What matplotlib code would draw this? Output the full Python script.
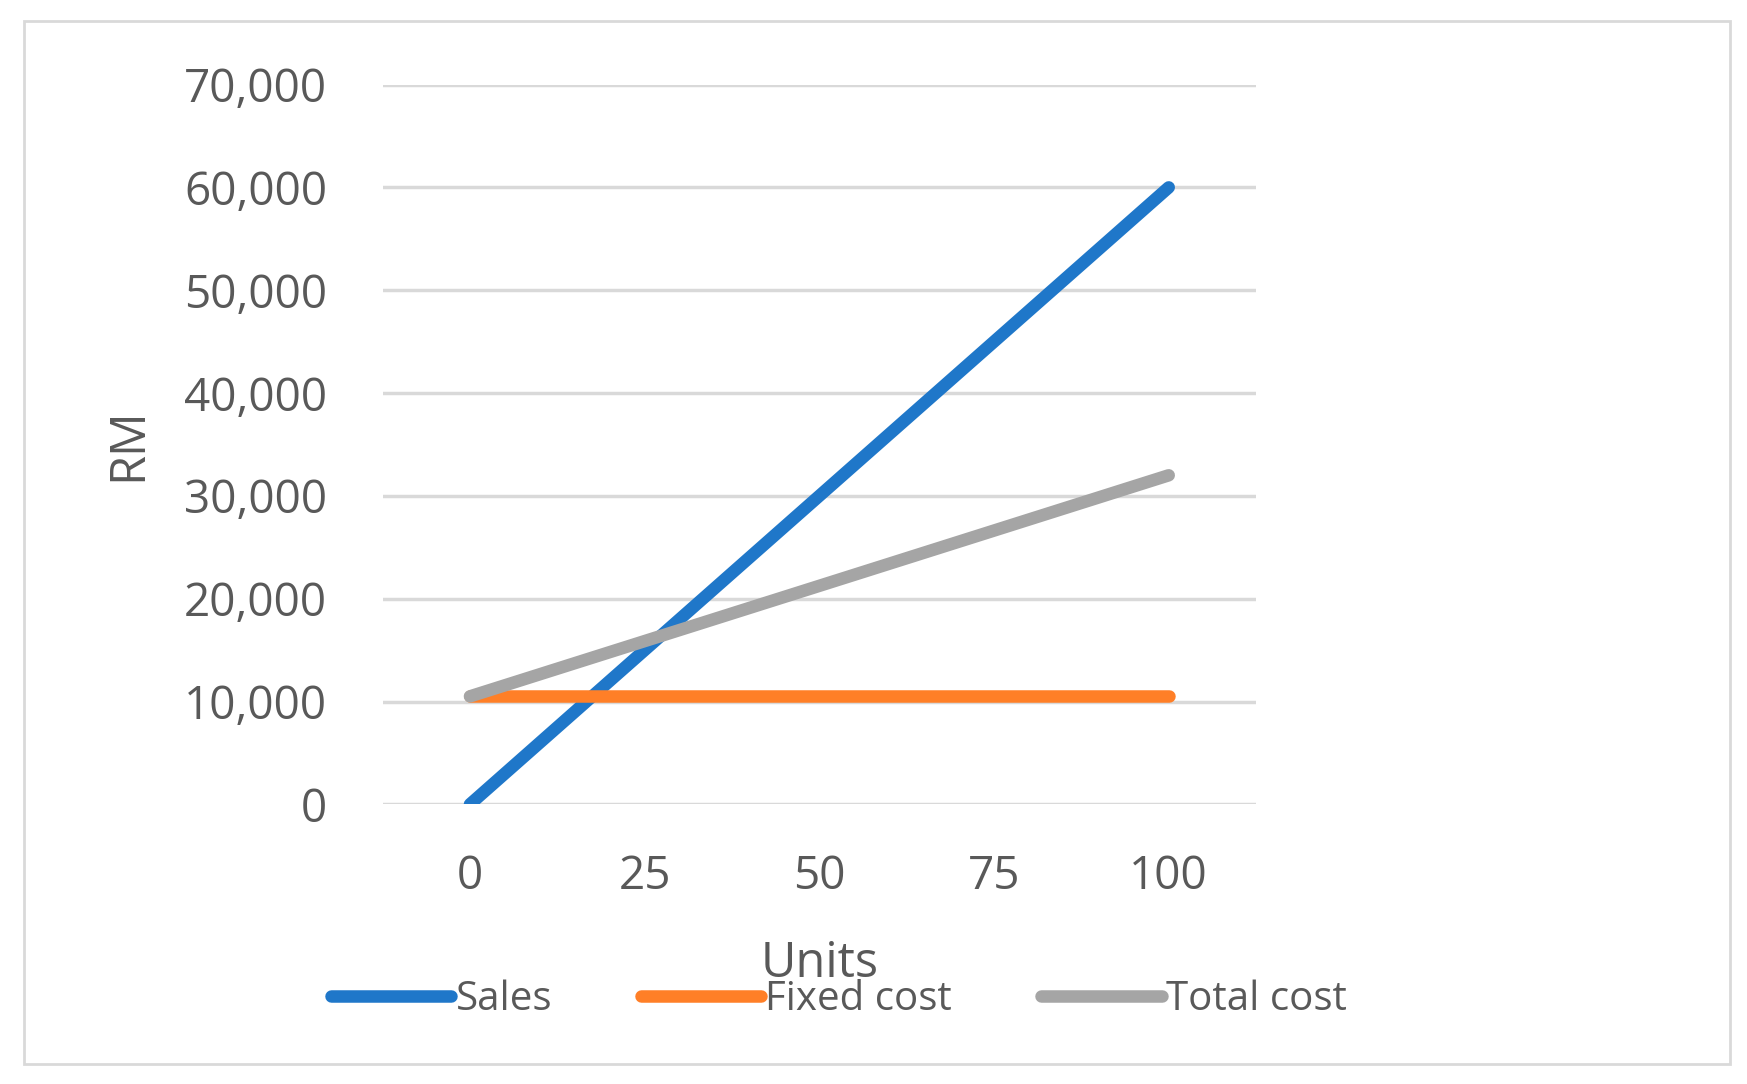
import matplotlib
matplotlib.use('Agg')
import matplotlib.pyplot as plt
from matplotlib.patches import Rectangle
from matplotlib.ticker import FuncFormatter

plt.rcParams['font.family'] = ['Open Sans', 'DejaVu Sans']

units = ['0', '25', '50', '75', '100']
sales = [0, 15000, 30000, 45000, 60000]
fixed_cost = [10500, 10500, 10500, 10500, 10500]
total_cost = [10500, 15875, 21250, 26625, 32000]

fig = plt.figure(figsize=(17.47, 10.84), dpi=100)
fig.patches.append(Rectangle((0.014, 0.018), 0.976, 0.963, transform=fig.transFigure,
                             fill=False, edgecolor='#d9d9d9', linewidth=2))
ax = fig.add_axes([0.219, 0.258, 0.5, 0.664])

x = range(len(units))
ax.plot(x, sales, color='#1f77c9', lw=9, solid_capstyle='round', label='Sales')
ax.plot(x, fixed_cost, color='#ff7f27', lw=9, solid_capstyle='round', label='Fixed cost')
ax.plot(x, total_cost, color='#a5a5a5', lw=9, solid_capstyle='round', label='Total cost')

ax.set_xlim(-0.5, 4.5)
ax.set_ylim(0, 70000)
ax.set_xticks(list(x))
ax.set_xticklabels(units)
ax.set_yticks(range(0, 70001, 10000))
ax.yaxis.set_major_formatter(FuncFormatter(lambda v, p: f'{int(v):,}'))
ax.grid(axis='y', color='#d9d9d9', lw=2.5)
ax.set_axisbelow(True)
for s in ax.spines.values():
    s.set_visible(False)
ax.tick_params(length=0, labelsize=33, labelcolor='#595959', pad=40)
ax.tick_params(axis='x', pad=36)
ax.set_xlabel('Units', fontsize=35, color='#595959', labelpad=28)
ax.set_ylabel('RM', fontsize=35, color='#595959', labelpad=22)

fig.legend(loc='center', bbox_to_anchor=(0.48, 0.078), ncol=3, frameon=False,
           fontsize=29, labelcolor='#595959', handlelength=3.0, handletextpad=0.1,
           columnspacing=2.2)

fig.savefig('out.png')
